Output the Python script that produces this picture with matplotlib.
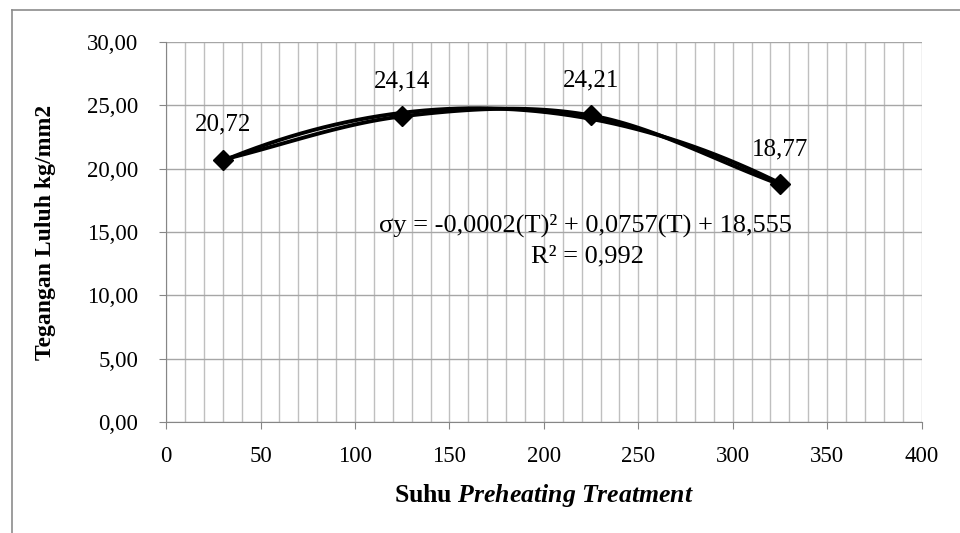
import numpy as np
import matplotlib.pyplot as plt
from matplotlib.ticker import MultipleLocator, FuncFormatter
from matplotlib.lines import Line2D

suhu = [30, 125, 225, 325]
tegangan = [20.72, 24.14, 24.21, 18.77]
label_txt = ["20,72", "24,14", "24,21", "18,77"]
persamaan = "σy = -0,0002(T)² + 0,0757(T) + 18,555"
r_kuadrat = "R² = 0,992"

plt.rcParams['font.family'] = ['Liberation Serif', 'DejaVu Serif']
plt.rcParams['mathtext.fontset'] = 'custom'
plt.rcParams['mathtext.rm'] = 'Liberation Serif'
plt.rcParams['mathtext.it'] = 'Liberation Serif:italic'
plt.rcParams['mathtext.bf'] = 'Liberation Serif:bold'
plt.rcParams['mathtext.bfit'] = 'Liberation Serif:bold:italic'

fig = plt.figure(figsize=(9.6, 5.33), dpi=100)
ax = fig.add_axes([0.173, 0.208, 0.787, 0.713])

# smooth line like excel (catmull-rom between the points)
x = np.array(suhu, float)
y = np.array(tegangan, float)
px = np.concatenate([[2 * x[0] - x[1]], x, [2 * x[-1] - x[-2]]])
py = np.concatenate([[2 * y[0] - y[1]], y, [2 * y[-1] - y[-2]]])
sx, sy = [], []
t = np.linspace(0, 1, 40)
for i in range(1, len(px) - 2):
    for arr, out in ((px, sx), (py, sy)):
        p0, p1, p2, p3 = arr[i - 1], arr[i], arr[i + 1], arr[i + 2]
        out.extend(0.5 * ((2 * p1) + (-p0 + p2) * t + (2 * p0 - 5 * p1 + 4 * p2 - p3) * t**2
                          + (-p0 + 3 * p1 - 3 * p2 + p3) * t**3))
ax.plot(sx, sy, color='black', lw=2.8, zorder=3)

# polynomial trendline
c = np.polyfit(x, y, 2)
tx = np.linspace(x[0], x[-1], 200)
ax.plot(tx, np.polyval(c, tx), color='black', lw=2.8, zorder=3)
ax.plot(x, y, ls='none', marker='D', ms=10, color='black', zorder=4)

for xi, yi, s in zip(suhu, tegangan, label_txt):
    ax.annotate(s, (xi, yi), xytext=(0, 25), textcoords='offset points',
                ha='center', va='center', fontsize=18)

ax.text(222, 15.5, persamaan, ha='center', va='center', fontsize=19)
ax.text(223, 13.1, r_kuadrat, ha='center', va='center', fontsize=19)

ax.set_xlim(0, 400)
ax.set_ylim(0, 30)
ax.xaxis.set_major_locator(MultipleLocator(50))
ax.xaxis.set_minor_locator(MultipleLocator(10))
ax.yaxis.set_major_locator(MultipleLocator(5))
ax.yaxis.set_major_formatter(FuncFormatter(lambda v, p: f"{v:.2f}".replace('.', ',')))
ax.grid(which='both', axis='x', color='#bfbfbf', lw=1)
ax.grid(which='major', axis='y', color='#a6a6a6', lw=1)
ax.set_axisbelow(True)
for s in ['top', 'right']:
    ax.spines[s].set_visible(False)
for s in ['left', 'bottom']:
    ax.spines[s].set_color('#868686')
ax.tick_params(which='major', length=5, color='#868686', labelsize=16.5, pad=12)
ax.tick_params(axis='y', pad=15)
ax.tick_params(which='minor', length=0)

ax.set_ylabel('Tegangan Luluh kg/mm2', fontsize=17, fontweight='bold', labelpad=22)
ax.set_xlabel(r'Suhu $\mathbfit{Preheating\ Treatment}$', fontsize=18.5, fontweight='bold', labelpad=11)

# chart border
fig.add_artist(Line2D([0.012, 0.012], [0, 0.982], color='#8c8c8c', lw=1.2))
fig.add_artist(Line2D([0.012, 1], [0.982, 0.982], color='#8c8c8c', lw=1.2))

fig.savefig('out.png', dpi=100)
